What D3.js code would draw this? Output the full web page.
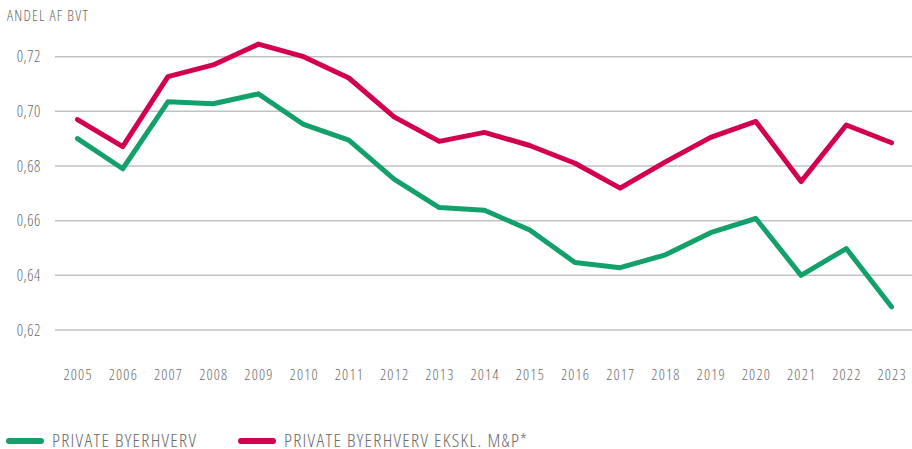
<!DOCTYPE html>
<html>
<head>
<meta charset="utf-8">
<script src="https://cdn.jsdelivr.net/npm/d3@7"></script>
<style>
  body { margin: 0; background: #fff; }
  svg text { font-family: "Open Sans", sans-serif; font-weight: 300; font-stretch: condensed; letter-spacing: 1.2px; fill: #6a6a6a; }
</style>
</head>
<body>
<svg id="chart" width="912" height="449"></svg>
<script>
// data
var years = [2005, 2006, 2007, 2008, 2009, 2010, 2011, 2012, 2013, 2014, 2015, 2016, 2017, 2018, 2019, 2020, 2021, 2022, 2023];
var privat = [0.690, 0.679, 0.7035, 0.7028, 0.7064, 0.6952, 0.6895, 0.6752, 0.6648, 0.6638, 0.6566, 0.6447, 0.6428, 0.6475, 0.6556, 0.6608, 0.6400, 0.6498, 0.6285];
var privatEkskl = [0.697, 0.6871, 0.7127, 0.7170, 0.7246, 0.7200, 0.7122, 0.6980, 0.6890, 0.6923, 0.6875, 0.6810, 0.6719, 0.6815, 0.6905, 0.6963, 0.6743, 0.6950, 0.6885];
var yTicks = [0.62, 0.64, 0.66, 0.68, 0.70, 0.72];
var seriesNames = ["PRIVATE BYERHVERV", "PRIVATE BYERHVERV EKSKL. M&P*"];
var colors = ["#13a06a", "#d3004f"];

var svg = d3.select("#chart");

var x = d3.scaleLinear().domain([2005, 2023]).range([77.5, 891.5]);
var y = d3.scaleLinear().domain([0.62, 0.72]).range([330, 56.7]);

// grid
svg.append("g")
  .selectAll("line")
  .data(yTicks)
  .enter().append("line")
    .attr("x1", 55)
    .attr("x2", 912)
    .attr("y1", function(d) { return y(d); })
    .attr("y2", function(d) { return y(d); })
    .attr("stroke", "#c2c2c2")
    .attr("stroke-width", 1.5);

// y labels (trailing letter-spacing pushes end-anchored text left)
svg.append("g")
  .selectAll("text")
  .data(yTicks)
  .enter().append("text")
    .attr("x", 41)
    .attr("y", function(d) { return y(d); })
    .attr("dy", "0.36em")
    .attr("text-anchor", "end")
    .style("font-size", "15.5px")
    .style("letter-spacing", "0.6px")
    .text(function(d) { return d.toFixed(2).replace(".", ","); });

// x labels
svg.append("g")
  .selectAll("text")
  .data(years)
  .enter().append("text")
    .attr("x", function(d) { return x(d) + 0.6; })
    .attr("y", 380)
    .attr("text-anchor", "middle")
    .style("font-size", "15px")
    .text(function(d) { return d; });

svg.append("text")
  .attr("x", 7)
  .attr("y", 21)
  .style("font-size", "15px")
  .text("ANDEL AF BVT");

var line = d3.line()
  .x(function(d, i) { return x(years[i]); })
  .y(function(d) { return y(d); });

[privat, privatEkskl].forEach(function(s, i) {
  svg.append("path")
    .datum(s)
    .attr("d", line)
    .attr("fill", "none")
    .attr("stroke", colors[i])
    .attr("stroke-width", 5)
    .attr("stroke-linejoin", "round")
    .attr("stroke-linecap", "round");
});

// legend
var legX = [9, 241];
var leg = svg.append("g")
  .selectAll("g")
  .data(seriesNames)
  .enter().append("g")
    .attr("transform", function(d, i) { return "translate(" + legX[i] + ",441)"; });
leg.append("line")
  .attr("x1", 0).attr("x2", 32)
  .attr("stroke", function(d, i) { return colors[i]; })
  .attr("stroke-width", 6)
  .attr("stroke-linecap", "round");
leg.append("text")
  .attr("x", 43)
  .attr("y", 5.5)
  .style("font-size", "19px")
  .style("letter-spacing", "1.3px")
  .text(function(d) { return d; });
</script>
</body>
</html>
